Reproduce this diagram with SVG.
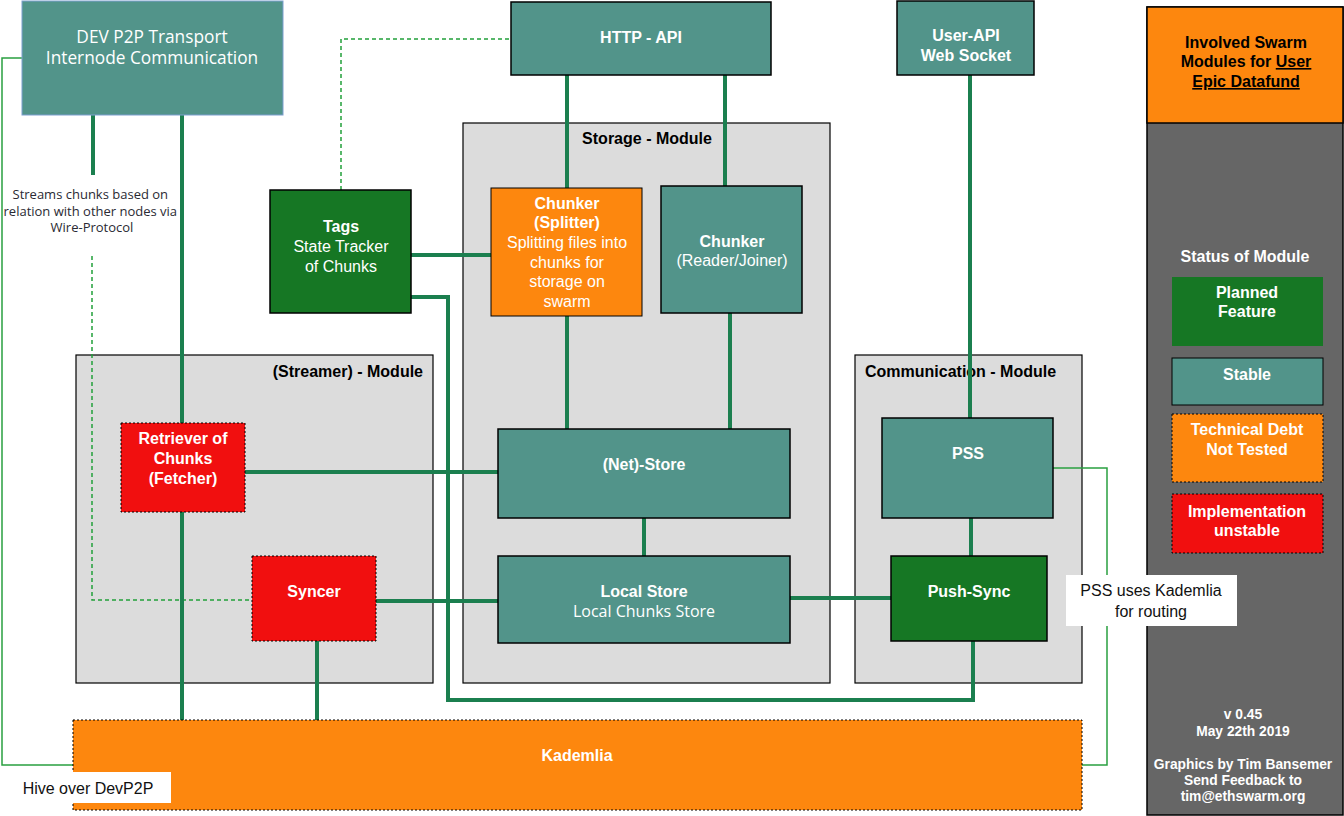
<svg xmlns="http://www.w3.org/2000/svg" width="1344" height="816" viewBox="0 0 1344 816">
<style>
.teal{fill:#52948a;stroke:#000;stroke-width:1.5}
.dg{fill:#167724;stroke:#000;stroke-width:1.5}
.or{fill:#fd870e;stroke:#000;stroke-width:1}
.red{fill:#f10f0f;stroke:#000;stroke-width:1;stroke-dasharray:2,2}
.mod{fill:#dcdcdc;stroke:#000;stroke-width:1.2}
.w{fill:#fff;font-family:"Liberation Sans",Arial,sans-serif;font-size:16px;text-anchor:middle}
.wb{fill:#fff;font-family:"Liberation Sans",Arial,sans-serif;font-size:16px;font-weight:bold;text-anchor:middle}
.os{fill:#fff;font-family:"Open Sans",sans-serif;text-anchor:middle}
.kb{fill:#000;font-family:"Liberation Sans",Arial,sans-serif;font-size:16px;font-weight:bold}
.lbl{fill:#111;font-family:"Liberation Sans",Arial,sans-serif;font-size:16px;text-anchor:middle}
.thick{fill:none;stroke:#1b7f4f;stroke-width:4}
.thin{fill:none;stroke:#2aa040;stroke-width:1.5}
.dot{fill:none;stroke:#22a03a;stroke-width:1.5;stroke-dasharray:4,3}
.sm{fill:#fff;font-family:"Liberation Sans",Arial,sans-serif;font-size:13.8px;font-weight:bold;text-anchor:middle}
</style>

<g id="modules">
  <g id="storage-module">
    <rect class="mod" x="463" y="123" width="367" height="560"/>
    <text class="kb" x="647" y="144" text-anchor="middle">Storage - Module</text>
  </g>
  <g id="streamer-module">
    <rect class="mod" x="76" y="355" width="357" height="328"/>
    <text class="kb" x="423" y="377" text-anchor="end">(Streamer) - Module</text>
  </g>
  <g id="communication-module">
    <rect class="mod" x="855" y="355" width="227" height="328"/>
    <text class="kb" x="865" y="377">Communication - Module</text>
  </g>
</g>

<g id="connectors">
  <polyline class="thin" points="22,58 2,58 2,765 73,765"/>
  <polyline class="thin" points="1053,468 1107,468 1107,765 1082,765"/>
  <polyline class="dot" points="341,190 341,39 511,39"/>
  <polyline class="dot" points="92,256 92,600 252,600"/>
  <line class="thick" x1="93" y1="115" x2="93" y2="175"/>
  <line class="thick" x1="182" y1="115" x2="182" y2="720"/>
  <line class="thick" x1="567" y1="75" x2="567" y2="188"/>
  <line class="thick" x1="725" y1="75" x2="725" y2="186"/>
  <line class="thick" x1="970" y1="75" x2="970" y2="418"/>
  <line class="thick" x1="411" y1="255" x2="491" y2="255"/>
  <polyline class="thick" points="411,297 448,297 448,700 973,700 973,641"/>
  <line class="thick" x1="567" y1="316" x2="567" y2="429"/>
  <line class="thick" x1="730" y1="313" x2="730" y2="429"/>
  <line class="thick" x1="644" y1="518" x2="644" y2="556"/>
  <line class="thick" x1="245" y1="472" x2="498" y2="472"/>
  <line class="thick" x1="376" y1="601" x2="498" y2="601"/>
  <line class="thick" x1="317" y1="641" x2="317" y2="720"/>
  <line class="thick" x1="790" y1="598" x2="891" y2="598"/>
  <line class="thick" x1="971" y1="518" x2="971" y2="556"/>
</g>

<g id="streams-label">
  <text fill="#2a2a33" font-family="Open Sans, sans-serif" font-size="13" text-anchor="middle">
    <tspan x="92" y="199">Streams chunks based on</tspan>
    <tspan x="92" y="216">relation with other nodes via</tspan>
    <tspan x="92" y="232">Wire-Protocol</tspan>
  </text>
</g>

<g id="dev-p2p">
  <rect x="22" y="1" width="261" height="114" fill="#52948a" stroke="#7d9fd0" stroke-width="1"/>
  <text class="os" font-size="17.3"><tspan x="152" y="43">DEV P2P Transport</tspan><tspan x="152" y="64">Internode Communication</tspan></text>
</g>

<g id="http-api">
  <rect class="teal" x="511" y="2" width="260" height="73"/>
  <text class="wb" x="641" y="43">HTTP - API</text>
</g>

<g id="user-api">
  <rect class="teal" x="897" y="1" width="137" height="74"/>
  <text class="wb"><tspan x="966" y="41">User-API</tspan><tspan x="966" y="61">Web Socket</tspan></text>
</g>

<g id="tags">
  <rect class="dg" x="270" y="190" width="141" height="123" stroke-width="2"/>
  <text class="w"><tspan x="341" y="232" font-weight="bold">Tags</tspan><tspan x="341" y="252">State Tracker</tspan><tspan x="341" y="272">of Chunks</tspan></text>
</g>

<g id="chunker-splitter">
  <rect class="or" x="491" y="188" width="151" height="128"/>
  <text class="w"><tspan x="567" y="209" font-weight="bold">Chunker</tspan><tspan x="567" y="228" font-weight="bold">(Splitter)</tspan><tspan x="567" y="248">Splitting files into</tspan><tspan x="567" y="268">chunks for</tspan><tspan x="567" y="287">storage on</tspan><tspan x="567" y="307">swarm</tspan></text>
</g>

<g id="chunker-reader">
  <rect class="teal" x="661" y="186" width="141" height="127"/>
  <text class="w"><tspan x="732" y="247" font-weight="bold">Chunker</tspan><tspan x="732" y="266">(Reader/Joiner)</tspan></text>
</g>

<g id="net-store">
  <rect class="teal" x="498" y="429" width="292" height="89"/>
  <text class="wb" x="644" y="470">(Net)-Store</text>
</g>

<g id="local-store">
  <rect class="teal" x="498" y="556" width="292" height="87"/>
  <text class="wb" x="644" y="597">Local Store</text>
  <text class="os" x="644" y="617" font-size="16">Local Chunks Store</text>
</g>

<g id="retriever">
  <rect class="red" x="121" y="423" width="124" height="89"/>
  <text class="wb"><tspan x="183" y="444">Retriever of</tspan><tspan x="183" y="464">Chunks</tspan><tspan x="183" y="484">(Fetcher)</tspan></text>
</g>

<g id="syncer">
  <rect class="red" x="252" y="556" width="124" height="85"/>
  <text class="wb" x="314" y="597">Syncer</text>
</g>

<g id="pss">
  <rect class="teal" x="882" y="418" width="171" height="100"/>
  <text class="wb" x="968" y="459">PSS</text>
</g>

<g id="push-sync">
  <rect class="dg" x="891" y="556" width="156" height="85"/>
  <text class="wb" x="969" y="597">Push-Sync</text>
</g>

<g id="kademlia">
  <rect x="73" y="720" width="1009" height="90" fill="#fd870e" stroke="#000" stroke-width="1" stroke-dasharray="2,2"/>
  <text class="wb" x="577" y="761">Kademlia</text>
</g>

<g id="hive-label">
  <rect x="0" y="772" width="171" height="31" fill="#fff"/>
  <text class="lbl" x="88" y="794">Hive over DevP2P</text>
</g>

<g id="sidebar">
  <rect x="1147" y="7" width="196" height="808" fill="#666666" stroke="#000" stroke-width="1.5"/>
  <rect x="1147" y="7" width="196" height="116" fill="#fd870e" stroke="#000" stroke-width="1.5"/>
  <text class="kb" text-anchor="middle"><tspan x="1246" y="48">Involved Swarm</tspan><tspan x="1246" y="67">Modules for <tspan text-decoration="underline">User</tspan></tspan><tspan x="1246" y="87" text-decoration="underline">Epic Datafund</tspan></text>
  <text class="wb" x="1245" y="262">Status of Module</text>
  <g id="legend-planned">
    <rect x="1172" y="277" width="151" height="69" fill="#167724"/>
    <text class="wb"><tspan x="1247" y="298">Planned</tspan><tspan x="1247" y="317">Feature</tspan></text>
  </g>
  <g id="legend-stable">
    <rect x="1172" y="358" width="151" height="47" fill="#52948a" stroke="#000" stroke-width="1"/>
    <text class="wb" x="1247" y="380">Stable</text>
  </g>
  <g id="legend-debt">
    <rect x="1172" y="414" width="151" height="68" fill="#fd870e" stroke="#000" stroke-width="1" stroke-dasharray="2,2"/>
    <text class="wb"><tspan x="1247" y="435">Technical Debt</tspan><tspan x="1247" y="455">Not Tested</tspan></text>
  </g>
  <g id="legend-unstable">
    <rect x="1172" y="494" width="151" height="59" fill="#f10f0f" stroke="#000" stroke-width="1" stroke-dasharray="2,2"/>
    <text class="wb"><tspan x="1247" y="517">Implementation</tspan><tspan x="1247" y="536">unstable</tspan></text>
  </g>
  <text class="sm"><tspan x="1243" y="719">v 0.45</tspan><tspan x="1243" y="736">May 22th 2019</tspan></text>
  <text class="sm"><tspan x="1243" y="769">Graphics by Tim Bansemer</tspan><tspan x="1243" y="785">Send Feedback to</tspan><tspan x="1243" y="801">tim@ethswarm.org</tspan></text>
</g>

<g id="pss-label">
  <rect x="1066" y="575" width="171" height="51" fill="#fff"/>
  <text class="lbl"><tspan x="1151" y="596">PSS uses Kademlia</tspan><tspan x="1151" y="617">for routing</tspan></text>
</g>
</svg>
